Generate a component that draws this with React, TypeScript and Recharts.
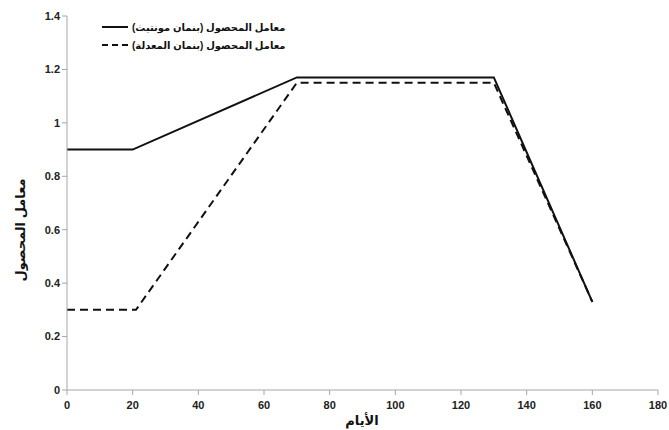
import { LineChart, Line, XAxis, YAxis, Label } from "recharts"

const pmDays = [0, 20, 70, 130, 160]
const pmKc = [0.9, 0.9, 1.17, 1.17, 0.33]
const modDays = [0, 21, 70, 130, 160]
const modKc = [0.3, 0.3, 1.15, 1.15, 0.33]
const xTicks = [0, 20, 40, 60, 80, 100, 120, 140, 160, 180]
const yTicks = [0, 0.2, 0.4, 0.6, 0.8, 1, 1.2, 1.4]

const pmName = "معامل المحصول (بنمان مونتيث)"
const modName = "معامل المحصول (بنمان المعدلة)"

const pmData = pmDays.map((d, i) => ({ day: d, kc: pmKc[i] }))
const modData = modDays.map((d, i) => ({ day: d, kc: modKc[i] }))

const font = "'Liberation Sans', 'DejaVu Sans', Arial, sans-serif"
const axisColor = "#a6a6a6"
const tickStyle = { fontSize: 11, fontWeight: 700, fill: "#222", fontFamily: font }

function LegendBox() {
  const items = [
    { name: pmName, dash: undefined },
    { name: modName, dash: "6 4" },
  ]
  return (
    <div
      style={{
        position: "absolute",
        left: 100,
        top: 18,
        fontFamily: font,
        fontSize: 10,
        fontWeight: 700,
        color: "#111",
      }}
    >
      {items.map((it) => (
        <div key={it.name} style={{ display: "flex", alignItems: "center", height: 18 }}>
          <svg width={30} height={10}>
            <line x1={2} y1={5} x2={28} y2={5} stroke="#111" strokeWidth={2} strokeDasharray={it.dash} />
          </svg>
          <span style={{ direction: "rtl", marginLeft: 2 }}>{it.name}</span>
        </div>
      ))}
    </div>
  )
}

export default function App() {
  return (
    <div style={{ position: "absolute", left: 0, top: 0, width: 669, height: 430, background: "#fff" }}>
      <LineChart width={669} height={430} margin={{ top: 16, right: 11, left: 0, bottom: 0 }}>
        <XAxis
          type="number"
          dataKey="day"
          domain={[0, 180]}
          ticks={xTicks}
          height={40}
          stroke={axisColor}
          tick={{ ...tickStyle, dy: 4 }}
          tickSize={5}
          allowDuplicatedCategory={false}
        >
          <Label
            content={() => (
              <text x={362} y={425} textAnchor="middle" fontFamily={font} fontSize={13} fontWeight={700} fill="#111">
                الأيام
              </text>
            )}
          />
        </XAxis>
        <YAxis
          type="number"
          domain={[0, 1.4]}
          ticks={yTicks}
          width={67}
          stroke={axisColor}
          tick={tickStyle}
          tickSize={5}
        >
          <Label
            content={() => (
              <text
                x={22}
                y={230}
                textAnchor="middle"
                transform="rotate(-90 22 230)"
                fontFamily={font}
                fontSize={13}
                fontWeight={700}
                fill="#111"
                dominantBaseline="middle"
              >
                معامل المحصول
              </text>
            )}
          />
        </YAxis>
        <Line
          data={pmData}
          dataKey="kc"
          name={pmName}
          type="linear"
          stroke="#111"
          strokeWidth={2}
          dot={false}
          isAnimationActive={false}
        />
        <Line
          data={modData}
          dataKey="kc"
          name={modName}
          type="linear"
          stroke="#111"
          strokeWidth={2}
          strokeDasharray="8 5"
          dot={false}
          isAnimationActive={false}
        />
      </LineChart>
      <LegendBox />
    </div>
  )
}
